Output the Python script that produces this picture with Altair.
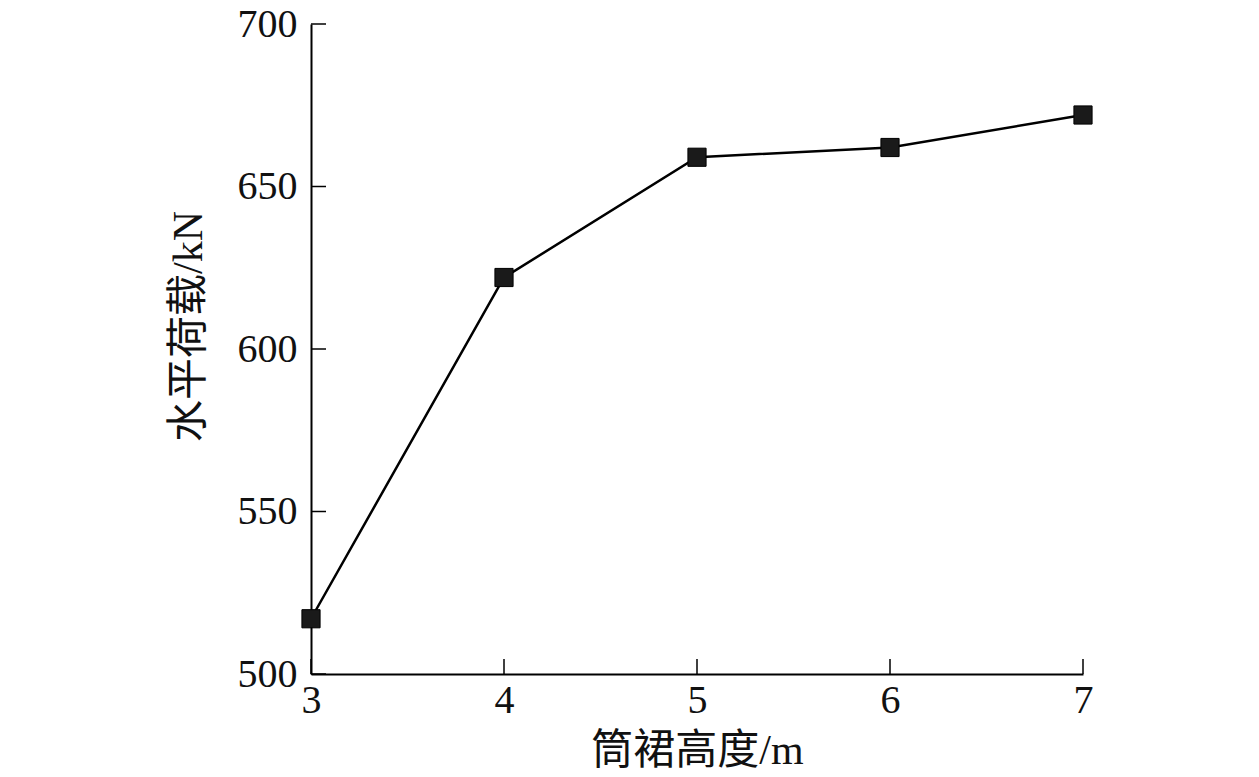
import altair as alt
import pandas as pd

heights = [3, 4, 5, 6, 7]
loads = [517, 622, 659, 662, 672]
x_ticks = [3, 4, 5, 6, 7]
y_ticks = [500, 550, 600, 650, 700]

df = pd.DataFrame({"h": heights, "load": loads})
xt = pd.DataFrame({"h": x_ticks})
yt = pd.DataFrame({"load": y_ticks})

FONT = "Liberation Serif, Noto Sans CJK SC"
PLOT_H = 650
TICK = 15

xs = alt.Scale(domain=[3, 7], nice=False, zero=False)
ys = alt.Scale(domain=[500, 700], nice=False, zero=False)

x = alt.X("h:Q", scale=xs,
          axis=alt.Axis(values=x_ticks, title="筒裙高度/m", format="d"))
y = alt.Y("load:Q", scale=ys,
          axis=alt.Axis(values=y_ticks, title="水平荷载/kN", format="d",
                        titleY=302))

line = alt.Chart(df).mark_line(color="black", strokeWidth=2.5).encode(x=x, y=y)
pts = alt.Chart(df).mark_point(shape="square", filled=True, size=330,
                               color="#1a1a1a", opacity=1,
                               stroke="black", strokeWidth=1).encode(x=x, y=y)

# inward ticks
xtick = alt.Chart(xt).mark_rule(color="black", strokeWidth=1.5).encode(
    x=alt.X("h:Q", scale=xs), y=alt.value(PLOT_H), y2=alt.value(PLOT_H - TICK))
ytick = alt.Chart(yt).mark_rule(color="black", strokeWidth=1.5).encode(
    y=alt.Y("load:Q", scale=ys), x=alt.value(0), x2=alt.value(TICK))

chart = (line + xtick + ytick + pts).properties(
    width=772, height=PLOT_H,
    autosize=alt.AutoSizeParams(type="none"),
    padding={"left": 303, "top": 16, "right": 40, "bottom": 103},
).configure_view(stroke=None).configure_axis(
    grid=False, ticks=False, labelFlush=False,
    domainColor="black", domainWidth=2,
    labelFont=FONT, labelFontSize=40, labelColor="#111",
    titleFont=FONT, titleFontSize=42, titleFontWeight="normal", titleColor="#111",
).configure_axisX(
    labelPadding=6, titlePadding=10,
).configure_axisY(
    labelPadding=14, titlePadding=27,
)

chart.save("out.html", embed_options={"renderer": "svg", "actions": False})
